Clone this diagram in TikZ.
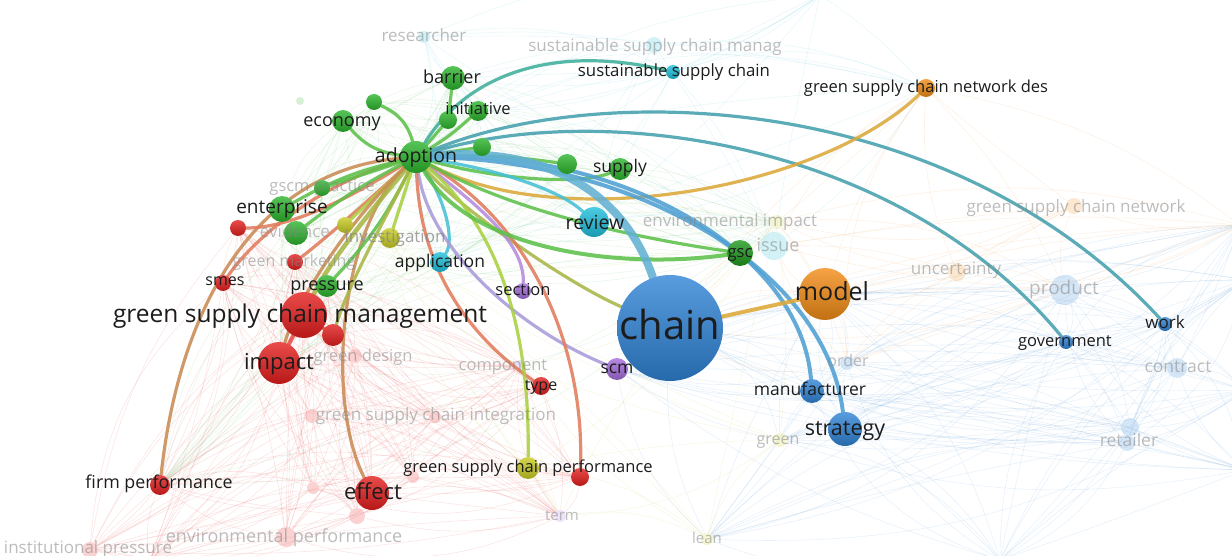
\documentclass[tikz,border=0pt]{standalone}
\usepackage{fontspec}
\setmainfont{Open Sans}
\pgfdeclarelayer{bg}\pgfdeclarelayer{fd}\pgfdeclarelayer{se}\pgfdeclarelayer{fl}\pgfdeclarelayer{sl}
\pgfsetlayers{bg,fd,se,main,fl,sl}
\definecolor{cG}{HTML}{2CB52C}
\definecolor{cGd}{HTML}{1E9A1E}
\definecolor{cR}{HTML}{E41E1E}
\definecolor{cB}{HTML}{2F84D6}
\definecolor{cO}{HTML}{F28C16}
\definecolor{cC}{HTML}{20C0DC}
\definecolor{cP}{HTML}{A46DDB}
\definecolor{cY}{HTML}{C8CC22}
\definecolor{eG}{HTML}{5DC04A}
\definecolor{eT}{HTML}{3FAE9A}
\definecolor{eTW}{HTML}{45A0AE}
\definecolor{eTB}{HTML}{62B0D2}
\definecolor{eBl}{HTML}{4E9FD3}
\definecolor{eOl}{HTML}{A9B545}
\definecolor{eBr}{HTML}{C98B55}
\definecolor{eRb}{HTML}{E07B5C}
\definecolor{eGo}{HTML}{DCA83A}
\definecolor{eLa}{HTML}{A99BDA}
\definecolor{eYG}{HTML}{A9D040}
\definecolor{ePu}{HTML}{B48BE0}
\definecolor{eCy}{HTML}{45C0D5}
\definecolor{lblc}{HTML}{1C1C1C}
\definecolor{fadec}{HTML}{858585}
\definecolor{fpink}{HTML}{E86060}
\definecolor{fblue}{HTML}{6FA6DA}
\definecolor{forange}{HTML}{F3A860}
\definecolor{fcyan}{HTML}{70CCE0}
\definecolor{fgreen}{HTML}{7CC87C}
\definecolor{fyellow}{HTML}{CFD26A}
\newcommand\webdraw[3]{%
 \foreach \a [count=\i] in {#1} {
  \foreach \b [count=\j] in {#1} {
   \ifnum\i<\j
    \pgfmathtruncatemacro\ang{mod(\i*7+\j*11,#3)-#3/2}
    \draw[fe,draw=#2] (\a) to[bend left=\ang] (\b);
   \fi
  }}}
\begin{document}
\begin{tikzpicture}[x=1pt,y=-1pt,
  sb/.style={circle,inner sep=0pt,draw=none,top color=#1!80!white,bottom color=#1!80!black},
  fdt/.style={circle,inner sep=0pt,draw=none,fill=#1,fill opacity=.2},
  lb/.style={inner sep=0pt,anchor=base,text=lblc,font=\fontsize{#1}{#1}\selectfont,yshift=-0.28*#1pt},
  lb/.default=17,
  fdl/.style={inner sep=0pt,anchor=base,text=fadec,text opacity=.55,font=\fontsize{#1}{#1}\selectfont,yshift=-0.28*#1pt},
  fdl/.default=17,
  se/.style={line width=3.2pt,line cap=round,draw opacity=.88},
  fe/.style={line width=.6pt,draw opacity=.16},
]
\useasboundingbox (0,0) rectangle (1232,556);

% strong nodes
\node[sb=cB,minimum size=106pt] (chain) at (670,328) {};
\node[sb=cO,minimum size=52pt] (model) at (825,294) {};
\node[sb=cB,minimum size=34pt] (strategy) at (845,429) {};
\node[sb=cB,minimum size=24pt] (manuf) at (812,391) {};
\node[sb=cB,minimum size=14pt] (gov) at (1066,342) {};
\node[sb=cB,minimum size=14pt] (work) at (1165,324) {};
\node[sb=cO,minimum size=18pt] (gscnd) at (926,88) {};
\node[sb=cC,minimum size=14pt] (ssc) at (673,72) {};
\node[sb=cC,minimum size=30pt] (review) at (594,222) {};
\node[sb=cC,minimum size=20pt] (appl) at (440,262) {};
\node[sb=cG,minimum size=32pt] (adopt) at (416,157) {};
\node[sb=cG,minimum size=24pt] (barrier) at (453,78) {};
\node[sb=cG,minimum size=20pt] (init) at (478,111) {};
\node[sb=cG,minimum size=18pt] (g1) at (448,120) {};
\node[sb=cG,minimum size=22pt] (econ) at (343,121) {};
\node[sb=cG,minimum size=16pt] (g2) at (374,102) {};
\node[sb=cG,minimum size=18pt] (g3) at (482,147) {};
\node[sb=cG,minimum size=20pt] (g4) at (567,164) {};
\node[sb=cG,minimum size=22pt] (supply) at (620,169) {};
\node[sb=cGd,minimum size=26pt] (gsc) at (740,253) {};
\node[sb=cG,minimum size=26pt] (enter) at (282,209) {};
\node[sb=cG,minimum size=24pt] (evid) at (296,233) {};
\node[sb=cG,minimum size=16pt] (gscmp) at (322,188) {};
\node[sb=cG,minimum size=22pt] (press) at (327,286) {};
\node[sb=cY,minimum size=16pt] (y1) at (345,225) {};
\node[sb=cY,minimum size=20pt] (invest) at (390,238) {};
\node[sb=cR,minimum size=16pt] (r1) at (238,228) {};
\node[sb=cR,minimum size=16pt] (smes) at (223,283) {};
\node[sb=cR,minimum size=16pt] (gmark) at (295,262) {};
\node[sb=cR,minimum size=46pt] (gscm) at (304,315) {};
\node[sb=cR,minimum size=22pt] (r2) at (333,335) {};
\node[sb=cR,minimum size=42pt] (impact) at (279,363) {};
\node[sb=cR,minimum size=34pt] (effect) at (372,493) {};
\node[sb=cR,minimum size=20pt] (firm) at (160,485) {};
\node[sb=cR,minimum size=18pt] (type) at (541,386) {};
\node[sb=cY,minimum size=22pt] (gscp) at (528,468) {};
\node[sb=cR,minimum size=18pt] (r3) at (580,477) {};
\node[sb=cP,minimum size=16pt] (section) at (523,291) {};
\node[sb=cP,minimum size=22pt] (scm) at (617,369) {};

% faint nodes
\begin{pgfonlayer}{fd}
\node[fdt=cC,minimum size=12pt] (fres) at (424,37) {};
\node[fdt=cC,minimum size=16pt] (fsscm) at (654,45) {};
\node[fdt=cO,minimum size=16pt] (fgscn) at (1074,206) {};
\node[fdt=cY,minimum size=14pt] (fenvi) at (777,222) {};
\node[fdt=cC,minimum size=28pt] (fissue) at (774,246) {};
\node[fdt=cO,minimum size=18pt] (funcert) at (957,272) {};
\node[fdt=cB,minimum size=30pt] (fprod) at (1065,290) {};
\node[fdt=cB,minimum size=20pt] (fcontr) at (1177,368) {};
\node[fdt=cB,minimum size=18pt] (fret) at (1130,427) {};
\node[fdt=cB,minimum size=16pt] (fret2) at (1127,443) {};
\node[fdt=cB,minimum size=14pt] (forder) at (847,363) {};
\node[fdt=cY,minimum size=14pt] (fgreen) at (780,440) {};
\node[fdt=cY,minimum size=12pt] (flean) at (707,539) {};
\node[fdt=cP,minimum size=12pt] (fterm) at (560,516) {};
\node[fdt=cR,minimum size=20pt] (fenvp) at (286,537) {};
\node[fdt=cR,minimum size=16pt] (fenvp2) at (357,516) {};
\node[fdt=cR,minimum size=16pt] (finst) at (90,550) {};
\node[fdt=cR,minimum size=14pt] (fgsci) at (312,416) {};
\node[fdt=cR,minimum size=12pt] (fgsci2) at (435,417) {};
\node[fdt=cP,minimum size=12pt] (fcomp) at (520,366) {};
\node[fdt=cR,minimum size=14pt] (fgd) at (355,356) {};
\node[fdt=cR,minimum size=12pt] (fa) at (313,488) {};
\node[fdt=cR,minimum size=12pt] (fb) at (413,477) {};
\node[fdt=cG,minimum size=8pt] (fcrit) at (300,101) {};
\end{pgfonlayer}
\coordinate (fR1) at (1245,280);
\coordinate (fR2) at (1245,390);
\coordinate (fR3) at (1245,470);
\coordinate (fR4) at (1240,225);
\coordinate (fB1) at (1000,560);
\coordinate (fT1) at (820,-5);
\coordinate (fL1) at (150,560);

% faint web
\begin{pgfonlayer}{bg}
\webdraw{gscm,impact,effect,firm,r2,gmark,smes,r1,fgd,fgsci,fgsci2,fenvp,fenvp2,finst,fa,fb,type,r3,fcomp,fterm,fL1,press}{fpink}{50}
\webdraw{chain,strategy,manuf,gov,work,fprod,fcontr,fret,fret2,forder,fR1,fR2,fR3,fR4,model,fgreen,flean,scm,fB1}{fblue}{46}
\webdraw{model,gscnd,funcert,fgscn,fprod,forder,chain,fenvi,fR4,fissue}{forange}{40}
\webdraw{fres,fsscm,ssc,review,fissue,appl,adopt,barrier,init,gscnd,fT1}{fcyan}{44}
\webdraw{adopt,econ,g2,enter,evid,gscmp,press,gscm,impact,barrier,firm,init,g3,g4,supply,gsc,fenvi}{fgreen}{50}
\webdraw{invest,y1,gscp,fgreen,flean,fenvi,fcomp,fterm}{fyellow}{40}
\end{pgfonlayer}

% strong edges
\begin{pgfonlayer}{se}
\draw[se,eBr] (adopt) .. controls (260,170) and (180,300) .. (firm);
\draw[se,eBr] (adopt) .. controls (340,230) and (325,400) .. (effect);
\draw[se,eRb] (smes) .. controls (260,230) and (330,180) .. (adopt);
\draw[se,eRb] (r1) .. controls (300,228) and (370,185) .. (adopt);
\draw[se,eRb] (gmark) .. controls (330,235) and (380,190) .. (adopt);
\draw[se,eG] (enter) to[bend left=8] (adopt);
\draw[se,eG] (evid) to[bend left=5] (adopt);
\draw[se,eG] (gscmp) -- (adopt);
\draw[se,eG] (press) to[bend right=8] (adopt);
\draw[se,eYG] (y1) -- (adopt);
\draw[se,eYG] (invest) -- (adopt);
\draw[se,eOl,line width=4.5pt] (gscm) .. controls (330,260) and (380,200) .. (adopt);
\draw[se,eBr] (impact) .. controls (300,290) and (360,210) .. (adopt);
\draw[se,eOl] (r2) .. controls (350,280) and (390,210) .. (adopt);
\draw[se,cR!80,line width=4pt] (gscm) -- (impact);
\draw[se,cR!80] (gscm) -- (r2);
\draw[se,eG] (adopt) to[bend left=20] (econ);
\draw[se,eG] (adopt) to[bend right=25] (g2);
\draw[se,eG] (adopt) -- (g1);
\draw[se,eG] (g1) -- (barrier);
\draw[se,eG] (adopt) to[bend right=5] (init);
\draw[se,eG] (adopt) -- (g3);
\draw[se,eG] (adopt) to[bend left=5] (g4);
\draw[se,eG] (adopt) .. controls (500,180) and (580,185) .. (supply);
\draw[se,eT] (adopt) .. controls (470,70) and (560,45) .. (ssc);
\draw[se,eTW] (adopt) .. controls (600,80) and (950,90) .. (work);
\draw[se,eTW] (adopt) .. controls (600,100) and (900,140) .. (gov);
\draw[se,eGo] (adopt) .. controls (560,235) and (820,190) .. (gscnd);
\draw[se,eCy] (adopt) .. controls (445,200) and (455,240) .. (appl);
\draw[se,eOl] (adopt) .. controls (450,200) and (560,280) .. (chain);
\draw[se,ePu] (adopt) .. controls (470,200) and (525,240) .. (section);
\draw[se,eLa] (adopt) .. controls (430,250) and (520,330) .. (scm);
\draw[se,eRb] (adopt) .. controls (420,260) and (460,330) .. (type);
\draw[se,eYG] (adopt) .. controls (500,230) and (530,330) .. (gscp);
\draw[se,eRb] (adopt) .. controls (540,230) and (585,360) .. (r3);
\draw[se,eG,line width=4pt] (adopt) .. controls (470,250) and (620,270) .. (gsc);
\draw[se,eG] (adopt) .. controls (520,215) and (650,240) .. (gsc);
\draw[se,eCy] (adopt) .. controls (500,170) and (560,190) .. (review);
\draw[se,eBl,line width=4pt] (adopt) .. controls (620,150) and (800,250) .. (manuf);
\draw[se,eBl,line width=4pt] (adopt) .. controls (630,160) and (825,265) .. (strategy);
\draw[se,eTB,line width=8pt] (adopt) .. controls (550,145) and (625,195) .. (chain);
\draw[se,eGo,line width=4pt] (chain) -- (model);
\end{pgfonlayer}

% faded labels
\begin{pgfonlayer}{fl}
\node[fdl] (t-res) at (424,37) {researcher};
\node[fdl] (t-sscm) at (655,47) {sustainable supply chain manag};
\node[fdl] (t-gscn) at (1076,208) {green supply chain network};
\node[fdl] (t-envi) at (730,222) {environmental impact};
\node[fdl=18] (t-issue) at (778,246) {issue};
\node[fdl] (t-unc) at (956,270) {uncertainty};
\node[fdl=19] (t-prod) at (1064,289) {product};
\node[fdl=16] (t-order) at (848,362) {order};
\node[fdl=17.5] (t-contr) at (1178,368) {contract};
\node[fdl=17.5] (t-ret) at (1129,442) {retailer};
\node[fdl=16] (t-green) at (778,440) {green};
\node[fdl=15] (t-lean) at (707,539) {lean};
\node[fdl=15] (t-term) at (562,516) {term};
\node[fdl=18] (t-envp) at (284,537) {environmental performance};
\node[fdl] (t-inst) at (88,549) {institutional pressure};
\node[fdl] (t-gsci) at (436,416) {green supply chain integration};
\node[fdl=16.5] (t-comp) at (503,366) {component};
\node[fdl=16.5] (t-gd) at (363,357) {green design};
\node[fdl=16] (t-gm) at (294,262) {green marketing};
\node[fdl] (t-evid) at (295,233) {evidence};
\node[fdl=16.5] (t-gscmp) at (322,187) {gscm practice};
\node[fdl,text opacity=.75] (t-inv) at (395,238) {investigation};
\end{pgfonlayer}

% strong labels
\begin{pgfonlayer}{sl}
\node[lb=40] (l-chain) at (670,328) {chain};
\node[lb=25] (l-model) at (832,294) {model};
\node[lb=21.5] (l-strategy) at (845,429) {strategy};
\node[lb=17.5] (l-manuf) at (810,391) {manufacturer};
\node[lb=16.5] (l-gov) at (1065,342) {government};
\node[lb=17] (l-work) at (1165,324) {work};
\node[lb=16.5] (l-gscnd) at (926,88) {green supply chain network des};
\node[lb=16.8] (l-ssc) at (674,72) {sustainable supply chain};
\node[lb=19.5] (l-review) at (595,224) {review};
\node[lb=17.5] (l-appl) at (440,263) {application};
\node[lb=19.5] (l-adopt) at (416,157) {adoption};
\node[lb=18] (l-barrier) at (452,78) {barrier};
\node[lb=16.5] (l-init) at (478,110) {initiative};
\node[lb=18] (l-econ) at (342,121) {economy};
\node[lb=17.5] (l-supply) at (620,168) {supply};
\node[lb=16.5] (l-gsc) at (740,253) {gsc};
\node[lb=19] (l-enter) at (282,208) {enterprise};
\node[lb=18] (l-press) at (327,285) {pressure};
\node[lb=16] (l-smes) at (225,281) {smes};
\node[lb=24.5] (l-gscm) at (300,316) {green supply chain management};
\node[lb=22] (l-impact) at (279,363) {impact};
\node[lb=22] (l-effect) at (373,493) {effect};
\node[lb=17.8] (l-firm) at (159,484) {firm performance};
\node[lb=16] (l-type) at (541,386) {type};
\node[lb=16.5] (l-gscp) at (528,468) {green supply chain performance};
\node[lb=16.5] (l-section) at (523,291) {section};
\node[lb=17.5] (l-scm) at (617,369) {scm};
\end{pgfonlayer}
\end{tikzpicture}
\end{document}
